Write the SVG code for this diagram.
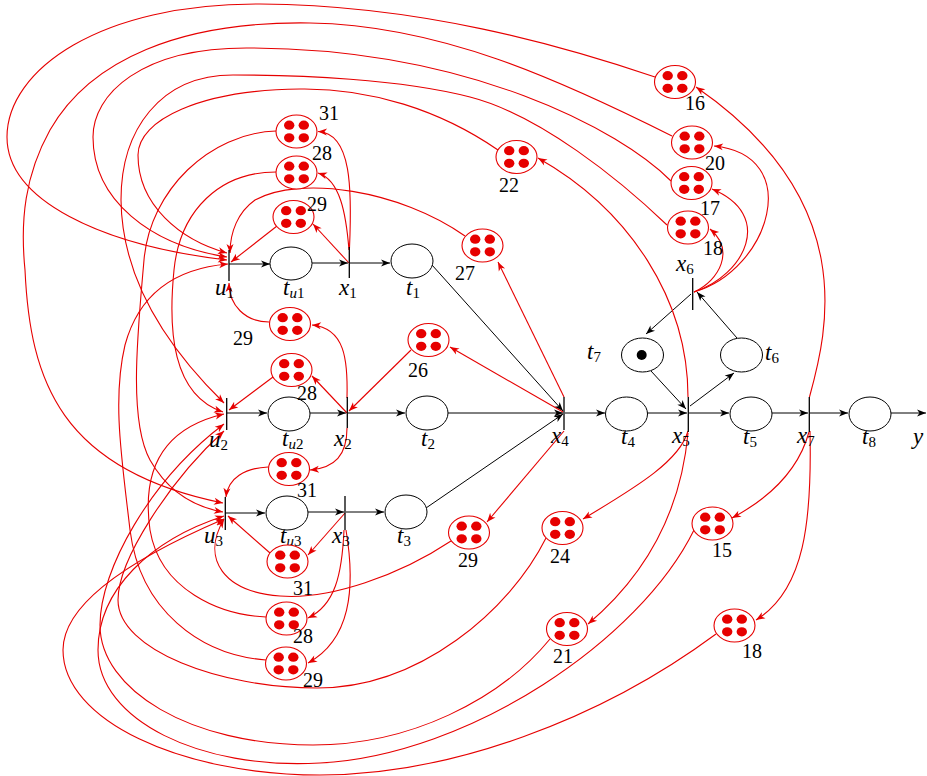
<svg xmlns="http://www.w3.org/2000/svg" xmlns:xlink="http://www.w3.org/1999/xlink" width="927" height="776" viewBox="0 0 927 776">
<style>
  .bk{stroke:#000;stroke-width:1;fill:none;marker-end:url(#ab)}
  .rd{stroke:#e60000;stroke-width:1.1;fill:none;marker-end:url(#ar)}
  .bar{stroke:#000;stroke-width:1.3}
  .pl{fill:#fff;stroke:#000;stroke-width:1}
  .lab{font-family:"Liberation Serif",serif;font-style:italic;font-size:23px;fill:#000}
  .sub{font-size:15px}
  .up{font-style:normal}
  .num{font-family:"Liberation Serif",serif;font-size:20px;fill:#000}
</style>
<defs>
  <marker id="ab" viewBox="-10 -5 11 10" refX="0" refY="0" markerWidth="11" markerHeight="10" markerUnits="userSpaceOnUse" orient="auto">
    <path d="M0,0 L-9,-3.5 L-6.5,0 L-9,3.5 Z" fill="#000"/>
  </marker>
  <marker id="ar" viewBox="-10 -5 11 10" refX="0" refY="0" markerWidth="11" markerHeight="10" markerUnits="userSpaceOnUse" orient="auto">
    <path d="M0,0 L-9,-3.5 L-6.5,0 L-9,3.5 Z" fill="#e60000"/>
  </marker>
  <!-- monitor place holding four tokens -->
  <g id="redplace">
    <ellipse cx="0" cy="0" rx="20.5" ry="16.5" fill="#fff" stroke="#e60000" stroke-width="1.1"/>
    <ellipse cx="-7.3" cy="-6.3" rx="5.2" ry="4.6" fill="#e60000"/>
    <ellipse cx="7.3" cy="-6.3" rx="5.2" ry="4.6" fill="#e60000"/>
    <ellipse cx="-7.3" cy="6.3" rx="5.2" ry="4.6" fill="#e60000"/>
    <ellipse cx="7.3" cy="6.3" rx="5.2" ry="4.6" fill="#e60000"/>
  </g>
</defs>

<rect width="927" height="776" fill="#fff"/>

<g id="connectors">
  <!-- black net arcs -->
  <path class="bk" d="M229,264 L270,264"/>
  <path class="bk" d="M312,263 L348,263"/>
  <path class="bk" d="M350,263 L390,263"/>
  <path class="bk" d="M432,265 L563,411"/>
  <path class="bk" d="M227,413 L267,413"/>
  <path class="bk" d="M310,413 L346,413"/>
  <path class="bk" d="M348,413 L405,413"/>
  <path class="bk" d="M448,413 L563,413"/>
  <path class="bk" d="M225,513 L265,513"/>
  <path class="bk" d="M308,512 L344,512"/>
  <path class="bk" d="M346,512 L384,512"/>
  <path class="bk" d="M426,508 L563,414"/>
  <path class="bk" d="M565,413 L605,413"/>
  <path class="bk" d="M647,413 L687,413"/>
  <path class="bk" d="M689,413 L729,413"/>
  <path class="bk" d="M772,413 L808,413"/>
  <path class="bk" d="M810,413 L848,413"/>
  <path class="bk" d="M891,413 L926,413"/>
  <path class="bk" d="M651,371 L686,409"/>
  <path class="bk" d="M690,406 L734,373"/>
  <path class="bk" d="M737,338 L697,292"/>
  <path class="bk" d="M691,294 L646,334"/>

  <!-- red arcs: transitions to monitor places -->
  <path class="rd" d="M349.5,248 C352,190 352,133 318,131.5"/>
  <path class="rd" d="M349,250 C346,213 340,180 318,173"/>
  <path class="rd" d="M349,263 L313,224"/>
  <path class="rd" d="M347,413 L312,376"/>
  <path class="rd" d="M347,398 C348,360 345,328 312,325"/>
  <path class="rd" d="M347,428 C347,455 335,468 310,470"/>
  <path class="rd" d="M345,513 L308,555"/>
  <path class="rd" d="M344,530 C342,575 335,605 308,618"/>
  <path class="rd" d="M346,530 C356,590 350,640 308,663"/>
  <path class="rd" d="M563,412 L450,347"/>
  <path class="rd" d="M564,397 L498,262"/>
  <path class="rd" d="M564,431 L487,522"/>
  <path class="rd" d="M688,431 C680,460 640,485 583,519"/>
  <path class="rd" d="M688,433 C680,520 640,580 588,624"/>
  <path class="rd" d="M688,397 C688,300 630,210 538,158"/>
  <path class="rd" d="M694,292 C720,280 735,250 710,229"/>
  <path class="rd" d="M694,292 C745,275 775,215 712,189"/>
  <path class="rd" d="M694,292 C770,270 805,155 714,146"/>
  <path class="rd" d="M809.5,397 C828,330 860,200 696,87"/>
  <path class="rd" d="M809,432 C800,465 775,495 732,518"/>
  <path class="rd" d="M810,431 C812,520 805,590 756,620"/>

  <!-- red arcs: monitor places to transitions -->
  <path class="rd" d="M277,226 L231,262"/>
  <path class="rd" d="M465,236 C400,190 300,175 255,200 C238,212 230,232 230,253"/>
  <path class="rd" d="M269,322 C245,322 229,305 229,283"/>
  <path class="rd" d="M411,350 L349,411"/>
  <path class="rd" d="M273,377 L229,410"/>
  <path class="rd" d="M268,467 C245,468 228,478 226,497"/>
  <path class="rd" d="M270,553 L228,516"/>
  <path class="rd" d="M451,541 C400,575 330,600 280,596 C225,592 200,560 224,519"/>
  <path class="rd" d="M655,77 C560,45 420,5 260,4 C100,3 7,70 7,137 C7,200 100,245 227,260"/>
  <path class="rd" d="M672,136 C560,80 440,25 310,23 C180,21 90,60 50,130 C25,175 20,220 25,270 C30,380 60,470 223,503"/>
  <path class="rd" d="M671,181 C620,130 470,49 250,48 C140,47 93,95 93,137 C93,200 150,245 227,257"/>
  <path class="rd" d="M667,225 C620,180 540,115 470,97 C400,79 300,75 233,75 C160,75 121,130 121,200 C122,290 180,360 224,403"/>
  <path class="rd" d="M498,150 C440,110 370,88 300,89 C200,90 138,120 138,155 C138,205 180,240 227,253"/>
  <path class="rd" d="M276,131 C210,133 150,190 144,260 C138,330 128,420 150,460 C168,492 195,507 223,512"/>
  <path class="rd" d="M276,172 C220,172 180,210 174,270 C168,330 172,395 223,412"/>
  <path class="rd" d="M266,660 C200,655 140,610 130,530 C122,460 112,400 125,345 C140,290 180,268 228,264"/>
  <path class="rd" d="M266,617 C220,615 160,590 150,530 C143,480 155,430 224,414"/>
  <path class="rd" d="M546,538 C510,610 420,688 317,688 C220,688 118,650 118,600 C118,560 170,480 224,431"/>
  <path class="rd" d="M550,639 C500,700 410,745 313,745 C190,745 100,690 100,625 C100,570 150,480 224,424"/>
  <path class="rd" d="M694,530 C640,640 470,755 320,763 C200,770 98,720 98,650 C98,590 150,540 224,516"/>
  <path class="rd" d="M716,634 C600,720 450,775 320,775 C180,775 63,720 63,650 C63,600 140,555 224,519"/>
</g>

<!-- transitions -->
<g id="u1"><line class="bar" x1="229" y1="250" x2="229" y2="281"/><text class="lab" x="215" y="295">u<tspan class="sub up" dy="3">1</tspan></text></g>
<g id="x1"><line class="bar" x1="349.3" y1="247" x2="349.3" y2="278"/><text class="lab" x="339" y="295">x<tspan class="sub up" dy="3">1</tspan></text></g>
<g id="u2"><line class="bar" x1="226.7" y1="398" x2="226.7" y2="430"/><text class="lab" x="209" y="447">u<tspan class="sub up" dy="3">2</tspan></text></g>
<g id="x2"><line class="bar" x1="347.3" y1="397" x2="347.3" y2="428"/><text class="lab" x="334" y="446">x<tspan class="sub up" dy="3">2</tspan></text></g>
<g id="u3"><line class="bar" x1="225.3" y1="497" x2="225.3" y2="530"/><text class="lab" x="204" y="543">u<tspan class="sub up" dy="3">3</tspan></text></g>
<g id="x3"><line class="bar" x1="345" y1="496" x2="345" y2="530"/><text class="lab" x="332" y="543">x<tspan class="sub up" dy="3">3</tspan></text></g>
<g id="x4"><line class="bar" x1="564" y1="397" x2="564" y2="430"/><text class="lab" x="551" y="443">x<tspan class="sub up" dy="3">4</tspan></text></g>
<g id="x5"><line class="bar" x1="688.3" y1="397" x2="688.3" y2="432"/><text class="lab" x="672" y="443">x<tspan class="sub up" dy="3">5</tspan></text></g>
<g id="x6"><line class="bar" x1="692.7" y1="278" x2="692.7" y2="310"/><text class="lab" x="676" y="271">x<tspan class="sub up" dy="3">6</tspan></text></g>
<g id="x7"><line class="bar" x1="809.3" y1="397" x2="809.3" y2="432"/><text class="lab" x="797" y="443">x<tspan class="sub up" dy="3">7</tspan></text></g>

<!-- plant places -->
<g id="tu1"><ellipse class="pl" cx="291" cy="263.5" rx="21" ry="16.5"/><text class="lab" x="283" y="295">t<tspan class="sub" dy="3">u</tspan><tspan class="sub up">1</tspan></text></g>
<g id="t1"><ellipse class="pl" cx="412" cy="261" rx="21" ry="17"/><text class="lab" x="406" y="295">t<tspan class="sub up" dy="3">1</tspan></text></g>
<g id="tu2"><ellipse class="pl" cx="289" cy="414" rx="21" ry="17"/><text class="lab" x="282" y="446">t<tspan class="sub" dy="3">u</tspan><tspan class="sub up">2</tspan></text></g>
<g id="t2"><ellipse class="pl" cx="427" cy="413" rx="21" ry="17"/><text class="lab" x="421" y="446">t<tspan class="sub up" dy="3">2</tspan></text></g>
<g id="tu3"><ellipse class="pl" cx="287" cy="513" rx="21" ry="17"/><text class="lab" x="280" y="543">t<tspan class="sub" dy="3">u</tspan><tspan class="sub up">3</tspan></text></g>
<g id="t3"><ellipse class="pl" cx="406" cy="512" rx="21" ry="17"/><text class="lab" x="397" y="543">t<tspan class="sub up" dy="3">3</tspan></text></g>
<g id="t4"><ellipse class="pl" cx="626.5" cy="414" rx="21" ry="17"/><text class="lab" x="621" y="444">t<tspan class="sub up" dy="3">4</tspan></text></g>
<g id="t5"><ellipse class="pl" cx="751" cy="414" rx="21" ry="17"/><text class="lab" x="743" y="444">t<tspan class="sub up" dy="3">5</tspan></text></g>
<g id="t6"><ellipse class="pl" cx="741.5" cy="355" rx="21" ry="17"/><text class="lab" x="765" y="360">t<tspan class="sub up" dy="3">6</tspan></text></g>
<g id="t7"><ellipse class="pl" cx="642.5" cy="355" rx="21" ry="17"/><circle cx="641.7" cy="355" r="5" fill="#000"/><text class="lab" x="587" y="359">t<tspan class="sub up" dy="3">7</tspan></text></g>
<g id="t8"><ellipse class="pl" cx="870" cy="414" rx="21" ry="17"/><text class="lab" x="862" y="444">t<tspan class="sub up" dy="3">8</tspan></text></g>
<g id="y"><text class="lab" x="913" y="444">y</text></g>

<!-- monitor places -->
<g id="m31a"><use href="#redplace" x="296.5" y="131.5"/><text class="num" x="319" y="120">31</text></g>
<g id="m28a"><use href="#redplace" x="296.5" y="172.5"/><text class="num" x="312" y="160">28</text></g>
<g id="m29a"><use href="#redplace" x="293.5" y="217"/><text class="num" x="307" y="211">29</text></g>
<g id="m29b"><use href="#redplace" x="290" y="324"/><text class="num" x="233" y="345">29</text></g>
<g id="m28b"><use href="#redplace" x="291.5" y="370"/><text class="num" x="297" y="400">28</text></g>
<g id="m26"><use href="#redplace" x="428.5" y="340"/><text class="num" x="408" y="377">26</text></g>
<g id="m27"><use href="#redplace" x="482.5" y="245.5"/><text class="num" x="455" y="280">27</text></g>
<g id="m31b"><use href="#redplace" x="289" y="469"/><text class="num" x="297" y="497">31</text></g>
<g id="m31c"><use href="#redplace" x="287.5" y="561.5"/><text class="num" x="293" y="595">31</text></g>
<g id="m28c"><use href="#redplace" x="286.5" y="618.5"/><text class="num" x="293" y="643">28</text></g>
<g id="m29c"><use href="#redplace" x="286" y="663.5"/><text class="num" x="303" y="687">29</text></g>
<g id="m29d"><use href="#redplace" x="469" y="532.5"/><text class="num" x="458" y="567">29</text></g>
<g id="m24"><use href="#redplace" x="562.5" y="528"/><text class="num" x="550" y="563">24</text></g>
<g id="m15"><use href="#redplace" x="712.5" y="523.5"/><text class="num" x="712" y="557">15</text></g>
<g id="m21"><use href="#redplace" x="567" y="629"/><text class="num" x="553" y="663">21</text></g>
<g id="m18b"><use href="#redplace" x="734.5" y="625.5"/><text class="num" x="742" y="658">18</text></g>
<g id="m16"><use href="#redplace" x="675" y="82"/><text class="num" x="685" y="110">16</text></g>
<g id="m20"><use href="#redplace" x="692" y="142.5"/><text class="num" x="705" y="170">20</text></g>
<g id="m17"><use href="#redplace" x="691.5" y="183"/><text class="num" x="700" y="215">17</text></g>
<g id="m18a"><use href="#redplace" x="688" y="227.5"/><text class="num" x="703" y="255">18</text></g>
<g id="m22"><use href="#redplace" x="516.5" y="157"/><text class="num" x="499" y="192">22</text></g>
</svg>
